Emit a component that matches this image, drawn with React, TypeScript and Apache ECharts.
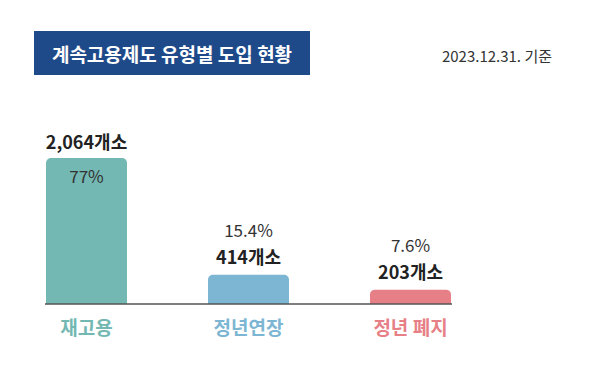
import React, { useEffect, useRef } from "react";
import * as echarts from "echarts";

const categories = ["재고용", "정년연장", "정년 폐지"];
const counts = [2064, 414, 203];
const countLabels = ["2,064개소", "414개소", "203개소"];
const percentLabels = ["77%", "15.4%", "7.6%"];
const colors = ["#73b8b2", "#7db6d3", "#e77f86"];
const title = "계속고용제도 유형별 도입 현황";
const dateNote = "2023.12.31. 기준";

const FONT = "'Noto Sans CJK KR', 'Noto Sans', sans-serif";

export default function App() {
  const ref = useRef<HTMLDivElement>(null);
  useEffect(() => {
    if (!ref.current) return;
    const chart = echarts.init(ref.current, null, { renderer: "svg" });
    const rich = {
      c: { fontSize: 18, fontWeight: "bold", color: "#222", fontFamily: FONT },
      p: { fontSize: 17, fontWeight: "normal", color: "#333", fontFamily: FONT },
    };
    const data = counts.map((v, i) => {
      const first = i === 0;
      return {
        value: v,
        itemStyle: { color: colors[i], borderRadius: [5, 5, 0, 0] },
        label: first
          ? {
              show: true,
              position: "insideTop",
              distance: 0,
              offset: [0, -35],
              formatter: `{c|${countLabels[i]}}\n{p|${percentLabels[i]}}`,
              rich: {
                c: { ...rich.c, lineHeight: 35 },
                p: { ...rich.p, lineHeight: 35 },
              },
            }
          : {
              show: true,
              position: "top",
              distance: 5,
              formatter: `{p|${percentLabels[i]}}\n{c|${countLabels[i]}}`,
              rich: {
                c: { ...rich.c, lineHeight: 27 },
                p: { ...rich.p, lineHeight: 27 },
              },
            },
      };
    });
    chart.setOption({
      animation: false,
      textStyle: { fontFamily: FONT },
      grid: { left: 5.5, right: 108.5, top: 158, bottom: 88 },
      xAxis: {
        type: "category",
        data: categories,
        axisLine: { show: false },
        axisTick: { show: false },
        axisLabel: {
          margin: 13,
          fontSize: 19,
          fontWeight: "bold",
          fontFamily: FONT,
          color: (_v: string, i: number) => colors[i],
        },
      },
      yAxis: {
        type: "value",
        min: 0,
        max: Math.max(...counts),
        show: false,
        splitLine: { show: false },
      },
      series: [
        {
          type: "bar",
          barWidth: 81,
          data,
          silent: true,
        },
      ],
      graphic: [
        {
          type: "rect",
          shape: { x: 34, y: 31, width: 276, height: 44 },
          style: { fill: "#1f4a8a" },
        },
        {
          type: "text",
          x: 172,
          y: 53,
          style: {
            text: title,
            fill: "#ffffff",
            font: `bold 19px ${FONT}`,
            textAlign: "center",
            textVerticalAlign: "middle",
          },
        },
        {
          type: "text",
          x: 552,
          y: 55,
          style: {
            text: dateNote,
            fill: "#333333",
            font: `15px ${FONT}`,
            textAlign: "right",
            textVerticalAlign: "middle",
          },
        },
        {
          type: "line",
          shape: { x1: 45, y1: 304, x2: 452, y2: 304 },
          style: { stroke: "#555555", lineWidth: 1.5 },
          z: 10,
        },
      ],
    });
    return () => chart.dispose();
  }, []);
  return (
    <div
      ref={ref}
      style={{ position: "fixed", left: 0, top: 0, width: 600, height: 392, background: "#fff" }}
    />
  );
}
